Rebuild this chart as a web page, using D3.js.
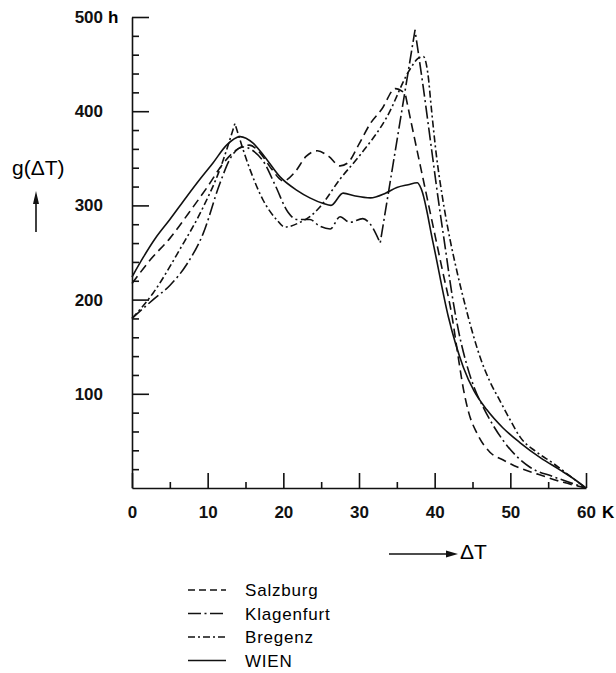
<!DOCTYPE html>
<html>
<head>
<meta charset="utf-8">
<script src="https://cdn.jsdelivr.net/npm/d3@7"></script>
<style>
  html, body { margin: 0; padding: 0; background: #fff; }
  svg { display: block; }
  .achse text { font-family: "Liberation Sans", Arial, sans-serif; font-weight: bold; font-size: 17px; fill: #111; }
  .achse path, .achse line { stroke: #111; stroke-width: 1.6; }
</style>
</head>
<body>
<div id="chart"></div>
<script>
// Daten: g(dT) in h
const stationen = ["Salzburg", "Klagenfurt", "Bregenz", "WIEN"];

const salzburg = [[0,217],[2.5,243],[5,265],[7.5,292],[10,320],[12,344],[14,360],[15.5,364],[17,355],
  [18.5,338],[20,326],[21.5,335],[23,352],[24.5,358],[26,352],[27.5,342],[28.5,345],[30,365],[31.5,387],
  [33,402],[34.8,424],[36.1,419],[37,384],[38,346],[39,308],[40,270],[41,232],[42.3,182],[43,145],
  [43.8,105],[44.5,80],[45.6,58],[47.3,38],[49,30],[51,22],[53.5,15],[57,6],[60,0]];

const klagenfurt = [[0,180],[2.8,200],[5,215],[7.2,237],[9.4,270],[11.6,323],[13,350],[14.7,362],[16,358],
  [17.5,345],[19,320],[20.6,293],[21.8,285],[23.5,285],[24.8,278],[26.2,275],[27.5,288],[28.8,282],
  [30.5,286],[31.5,280],[32.8,260],[37.4,486],[38.5,425],[39.5,365],[40.5,305],[41.4,255],[42.3,205],
  [43.2,165],[44.2,132],[45.3,105],[46.4,86],[49,51],[52.6,22],[55.7,12],[60,0]];

const bregenz = [[0,180],[2.8,207],[6.3,253],[9.4,298],[11.6,338],[13.6,387],[15.6,338],[17.3,306],
  [19.1,285],[20.2,277],[22.2,282],[23.5,288],[24.8,298],[27.5,328],[30.1,353],[33.7,394],[36.7,444],
  [37.8,456],[38.5,458],[39.1,440],[39.6,400],[40.2,355],[41,310],[42,265],[43,228],[44,195],[45,165],
  [46,139],[47.3,113],[48.6,93],[50,72],[51.3,54],[53.5,38],[55.7,26],[58,12],[60,0]];

const wien = [[0,224],[1.5,245],[3,264],[5,285],[7.2,309],[9,328],[10.7,345],[12.5,364],[14.3,373],
  [16,366],[17.5,352],[19.6,330],[21.8,316],[23.5,308],[25.3,302],[26.3,300],[27.9,313],[29.5,310],
  [31.5,308],[33.5,313],[35,319],[36.5,322],[37.7,324],[38.2,318],[39.8,260],[41.8,182],[43.8,128],
  [45.2,103],[46.9,83],[49,64],[51.3,48],[54,32],[56.6,19],[58.5,9],[60,0]];

// Knickpunkte (spitze Ecken, keine Glaettung)
const spitzen = { Salzburg: [36.1], Klagenfurt: [32.8, 37.4], Bregenz: [13.6], WIEN: [] };

const xMajor = [0, 10, 20, 30, 40, 50, 60];
const xMinor = [5, 15, 25, 35, 45, 55];
const yMajor = [100, 200, 300, 400, 500];
const yMinor = [20, 40, 60, 80, 120, 140, 160, 180, 220, 240, 260, 280, 320, 340, 360, 380, 420, 440, 460, 480];

const reihen = [salzburg, klagenfurt, bregenz, wien];
const strichmuster = ["9,5", "13,3.5,2,3.5", "7,3,2,3", null];

const breite = 616, hoehe = 673;
const svg = d3.select("#chart").append("svg").attr("width", breite).attr("height", hoehe);

const x = d3.scaleLinear().domain([0, 60]).range([132, 586]);
const y = d3.scaleLinear().domain([0, 500]).range([488, 17]);

// Achsen
const gx = svg.append("g").attr("class", "achse").attr("transform", `translate(0,${y(0)})`);
gx.call(d3.axisTop(x).tickValues(xMajor).tickSize(15).tickSizeOuter(0).tickFormat(""));
gx.append("g").call(d3.axisTop(x).tickValues(xMinor).tickSize(6).tickFormat(""))
  .select(".domain").remove();
const gxl = svg.append("g").attr("class", "achse").attr("transform", `translate(0,${y(0)})`)
  .call(d3.axisBottom(x).tickValues(xMajor).tickSize(0).tickPadding(18));
gxl.select(".domain").remove();
gxl.selectAll("text").attr("dy", "0.71em");

const gy = svg.append("g").attr("class", "achse").attr("transform", `translate(${x(0)},0)`);
gy.call(d3.axisRight(y).tickValues(yMajor).tickSize(17).tickSizeOuter(0).tickFormat(""));
gy.append("g").call(d3.axisRight(y).tickValues(yMinor).tickSize(7).tickFormat(""))
  .select(".domain").remove();
const gyl = svg.append("g").attr("class", "achse").attr("transform", `translate(${x(0)},0)`)
  .call(d3.axisLeft(y).tickValues(yMajor).tickSize(0).tickPadding(29));
gyl.select(".domain").remove();

// Einheiten
svg.append("text").attr("x", 108).attr("y", y(500)).attr("dy", "0.35em")
  .attr("font-family", "Liberation Sans, Arial, sans-serif").attr("font-weight", "bold")
  .attr("font-size", 17).text("h");
svg.append("text").attr("x", x(60) + 16).attr("y", y(0) + 18).attr("dy", "0.71em")
  .attr("font-family", "Liberation Sans, Arial, sans-serif").attr("font-weight", "bold")
  .attr("font-size", 17).text("K");

// Achsentitel
svg.append("text").attr("x", 12).attr("y", 175)
  .attr("font-family", "Liberation Sans, Arial, sans-serif").attr("font-size", 21)
  .text("g(\u0394T)");
svg.append("line").attr("x1", 36).attr("x2", 36).attr("y1", 232).attr("y2", 200)
  .attr("stroke", "#111").attr("stroke-width", 1.6);
svg.append("path").attr("d", "M36,191L39,204L33,204Z").attr("fill", "#111");

svg.append("line").attr("x1", 389).attr("x2", 450).attr("y1", 554).attr("y2", 554)
  .attr("stroke", "#111").attr("stroke-width", 1.6);
svg.append("path").attr("d", "M458,554L446,550.5L446,557.5Z").attr("fill", "#111");
svg.append("text").attr("x", 460).attr("y", 559)
  .attr("font-family", "Liberation Sans, Arial, sans-serif").attr("font-size", 21)
  .text("\u0394T");

// Kurven: monoton geglaettet, an Knickpunkten getrennt
const linie = d3.line().x(d => x(d[0])).y(d => y(d[1])).curve(d3.curveMonotoneX);
function kurve(punkte, knicke) {
  const teile = [];
  let start = 0;
  punkte.forEach((p, i) => {
    if (knicke.includes(p[0]) && i > 0 && i < punkte.length - 1) {
      teile.push(punkte.slice(start, i + 1));
      start = i;
    }
  });
  teile.push(punkte.slice(start));
  return teile.map((t, k) => k ? linie(t).replace(/^M/, "L") : linie(t)).join("");
}

svg.append("g").selectAll("path").data(reihen).join("path")
  .attr("d", (d, i) => kurve(d, spitzen[stationen[i]]))
  .attr("fill", "none").attr("stroke", "#111").attr("stroke-width", 1.6)
  .attr("stroke-linejoin", "round")
  .attr("stroke-dasharray", (d, i) => strichmuster[i]);

// Legende
const leg = svg.append("g").selectAll("g").data(stationen).join("g")
  .attr("transform", (d, i) => `translate(0,${590 + i * 23.5})`);
leg.append("line").attr("x1", 188).attr("x2", 226).attr("y1", 0).attr("y2", 0)
  .attr("stroke", "#111").attr("stroke-width", 1.5)
  .attr("stroke-dasharray", (d, i) => i === 0 ? "7,4" : strichmuster[i]);
leg.append("text").attr("x", 245).attr("y", 6)
  .attr("font-family", "Liberation Sans, Arial, sans-serif").attr("font-size", 17)
  .attr("letter-spacing", 0.8).text(d => d);
</script>
</body>
</html>
